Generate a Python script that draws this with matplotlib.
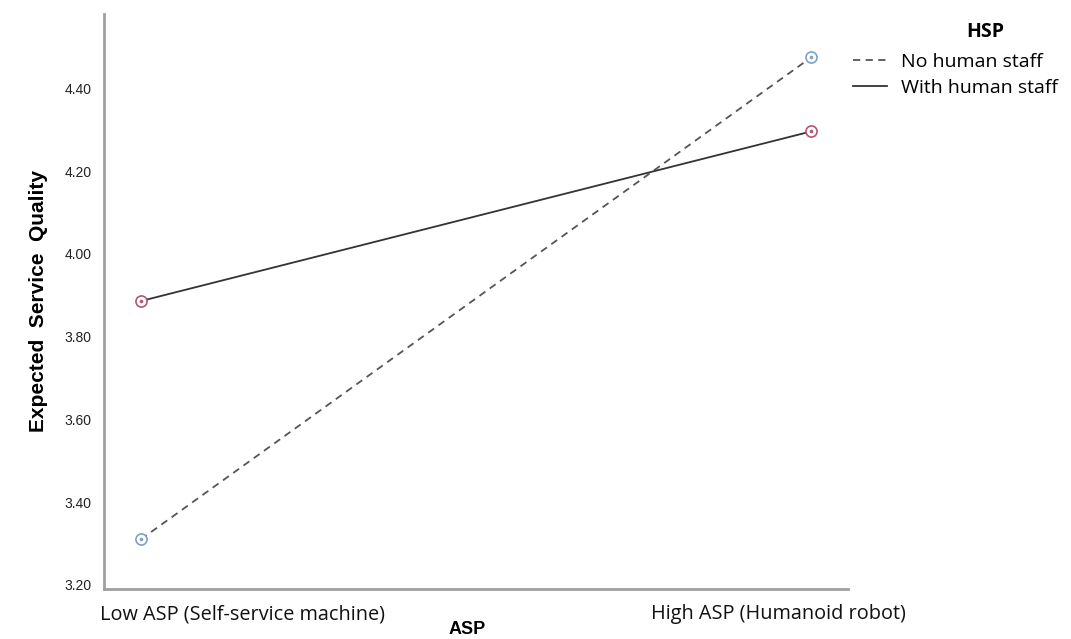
import matplotlib.pyplot as plt
import matplotlib.transforms as mtransforms
from matplotlib.lines import Line2D

# Data
categories = ['Low ASP (Self-service machine)', 'High ASP (Humanoid robot)']
no_staff = [3.31, 4.475]
with_staff = [3.886, 4.296]
y_ticks = [3.20, 3.40, 3.60, 3.80, 4.00, 4.20, 4.40]

fig = plt.figure(figsize=(10.71, 6.39), dpi=100)
ax = fig.add_axes([0.0971, 0.0782, 0.6947, 0.900])

x = list(range(len(categories)))
ax.plot(x, no_staff, color='#555555', lw=1.3, ls=(0, (4, 3)), zorder=2)
ax.plot(x, with_staff, color='#333333', lw=1.3, zorder=2)

# SPSS-style markers: open circle with a dot inside
ax.plot(x, no_staff, ls='none', marker='o', ms=8, mfc='white', mec='#7fa3c8', mew=1.2, zorder=3)
ax.plot(x, no_staff, ls='none', marker='o', ms=1.6, color='#7fa3c8', zorder=4)
ax.plot(x, with_staff, ls='none', marker='o', ms=8, mfc='white', mec='#b4566e', mew=1.2, zorder=3)
ax.plot(x, with_staff, ls='none', marker='o', ms=1.6, color='#b4566e', zorder=4)

ax.set_xlim(-0.055, 1.055)
ax.set_ylim(3.19, 4.58)
ax.set_yticks(y_ticks)
ax.set_yticklabels([f'{v:.2f}' for v in y_ticks], fontsize=10, fontfamily='Liberation Sans', color='#222222')
ax.set_xticks(x)
ax.set_xticklabels(categories, fontsize=14.3, fontfamily='Open Sans', color='#111111')
ax.tick_params(axis='y', length=0, pad=9)
ax.tick_params(axis='x', length=0, pad=11)

# the category labels in the original sit off-centre from the points
shifts = [102, -33]
for lab, dx in zip(ax.get_xticklabels(), shifts):
    lab.set_transform(lab.get_transform() + mtransforms.ScaledTranslation(dx / 100, 0, fig.dpi_scale_trans))

for s in ['top', 'right']:
    ax.spines[s].set_visible(False)
for s in ['left', 'bottom']:
    ax.spines[s].set_color('#a0a0a0')
    ax.spines[s].set_linewidth(2)

ax.set_ylabel('Expected  Service  Quality', fontsize=15, fontweight='bold',
              fontfamily='Liberation Sans', labelpad=12)
fig.text(467 / 1071, 1 - 630 / 639, 'ASP', fontsize=13, fontweight='bold',
         fontfamily='Liberation Sans', ha='center', va='center')

# Legend
fig.text(985 / 1071, 1 - 32 / 639, 'HSP', fontsize=14, fontweight='bold',
         fontfamily='Open Sans', ha='center', va='center')
handles = [Line2D([], [], color='#555555', lw=1.3, ls=(0, (4, 3))),
           Line2D([], [], color='#333333', lw=1.3)]
fig.legend(handles, ['No human staff', 'With human staff'], loc='upper left',
           bbox_to_anchor=(845 / 1071, 1 - 45 / 639), frameon=False,
           prop={'family': 'Open Sans', 'size': 14}, handlelength=1.75,
           handletextpad=0.75, labelspacing=0.42, borderaxespad=0)

fig.savefig('out.png', dpi=100)
